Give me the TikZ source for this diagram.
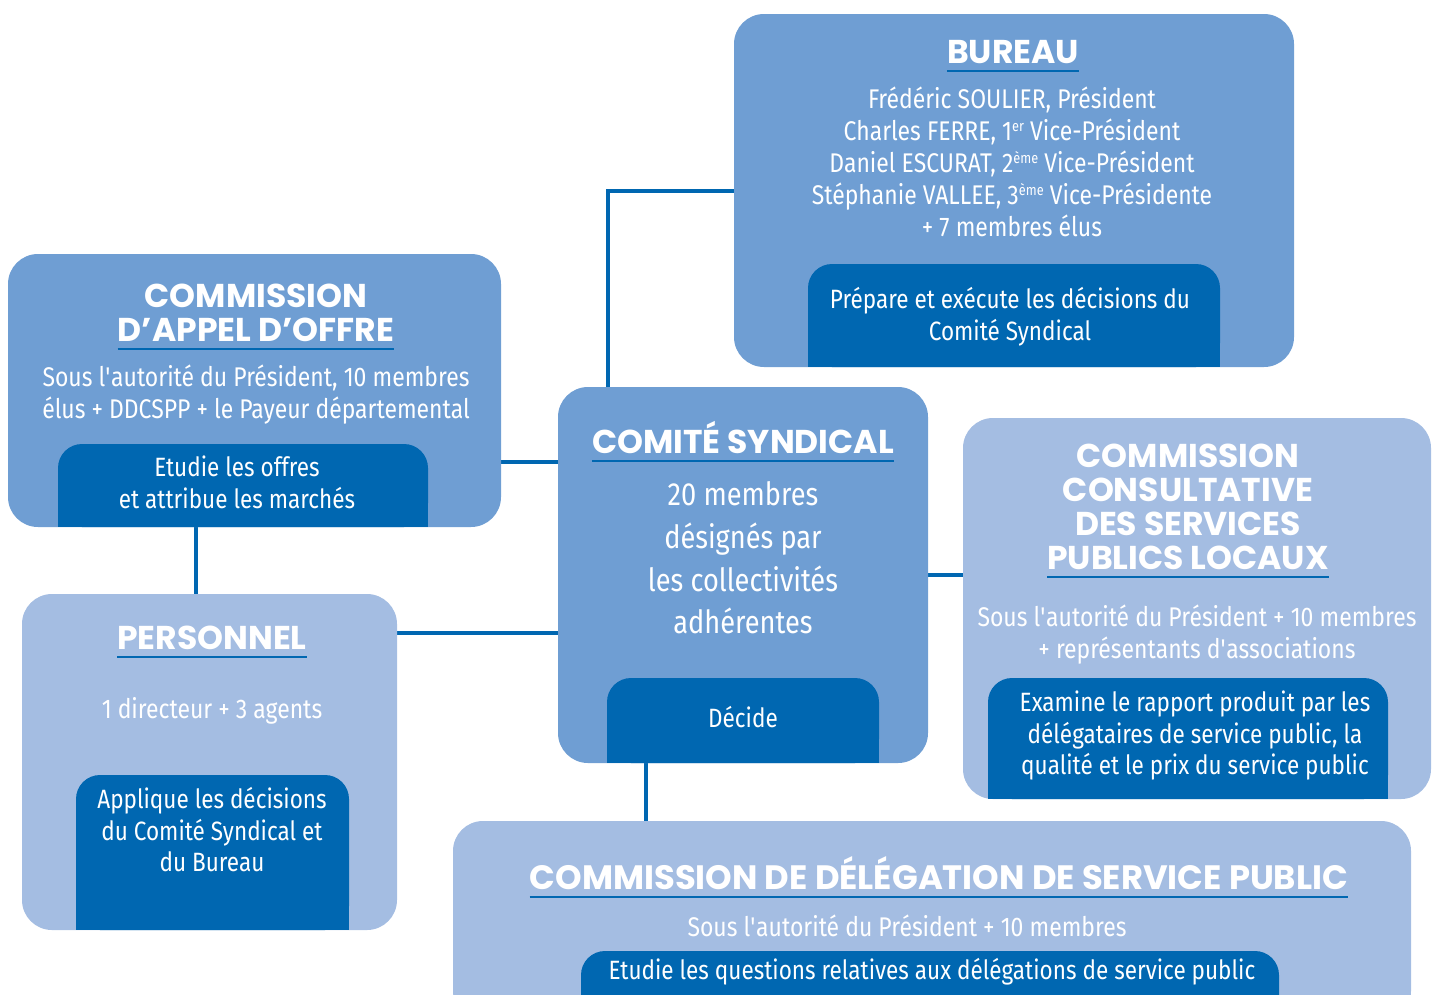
\documentclass[tikz,border=0pt]{standalone}
\usepackage{fontspec}
\usepackage{graphicx}
\setmainfont{Fira Sans}[FakeStretch=0.85]
\newfontfamily\headfont{Poppins}
\usetikzlibrary{backgrounds}
\definecolor{midblue}{HTML}{6F9ED3}
\definecolor{paleblue}{HTML}{A4BDE2}
\definecolor{deepblue}{HTML}{0067B1}
\tikzset{
  midbox/.style={fill=midblue, rounded corners=30pt, inner sep=0pt},
  palebox/.style={fill=paleblue, rounded corners=30pt, inner sep=0pt},
  deck/.style={fill=deepblue, rounded corners=24pt, inner sep=0pt},
  ttl/.style={font=\headfont\bfseries\fontsize{33}{34}\selectfont, text=white, align=center, inner sep=0pt},
  txt/.style={font=\fontsize{27}{32}\selectfont, text=white, align=center, inner sep=0pt},
  dtxt/.style={font=\fontsize{26.5}{31.5}\selectfont, text=white, align=center, inner sep=0pt},
  link/.style={draw=deepblue, line width=4pt},
  rule/.style={draw=deepblue, line width=2pt},
}
\newcommand{\sq}{\textquotesingle}
\newcommand{\rangsup}[1]{\raisebox{0.35em}{\fontsize{15}{15}\selectfont #1}}
\begin{document}
\begin{tikzpicture}[x=1pt, y=-1pt]
\clip (0,0) rectangle (1435,994);
% boxes
\node[midbox, minimum width=560pt, minimum height=353pt] (bureau) at (1014,190.5) {};
\node[midbox, minimum width=493pt, minimum height=273pt] (cao) at (254.5,390.5) {};
\node[midbox, minimum width=370pt, minimum height=376pt] (cs) at (743,575) {};
\node[palebox, minimum width=468pt, minimum height=381pt] (ccspl) at (1197,608.5) {};
\node[palebox, minimum width=375pt, minimum height=336pt] (pers) at (209.5,762) {};
\node[palebox, minimum width=958pt, minimum height=200pt] (cdsp) at (932,921) {};
% inner boxes
\node[deck, minimum width=412pt, minimum height=103pt] (bdec) at (1014,315.5) {};
\node[deck, minimum width=370pt, minimum height=83pt] (caodec) at (243,485.5) {};
\node[deck, minimum width=272pt, minimum height=85pt] (csdec) at (743,720.5) {};
\node[deck, minimum width=400pt, minimum height=121pt] (ccdec) at (1188,738.5) {};
\node[deck, minimum width=273pt, minimum height=155pt] (pdec) at (212.5,852.5) {};
\node[deck, minimum width=698pt, minimum height=70pt] (cdspdec) at (930,986) {};
\foreach \d in {bdec,caodec,csdec,ccdec,pdec}{
  \fill[deepblue] (\d.south west) rectangle ++(26,-26);
  \fill[deepblue] (\d.south east) rectangle ++(-26,-26);
}
% links
\begin{scope}[on background layer]
\coordinate (j1) at ([yshift=-71.5pt]cao.east);
\coordinate (j2) at ([xshift=-13.5pt]pers.north);
\coordinate (j3) at ([yshift=-39pt]pers.north east);
\coordinate (j4) at ([xshift=-97pt]cs.south);
\draw[link] ([xshift=50pt]cs.north west) |- (bureau.west);
\draw[link] (j1) -- (j1 -| cs.west);
\draw[link] (j2) -- (j2 |- cao.south);
\draw[link] (j3) -- (j3 -| cs.west);
\draw[link] (cs.east) -- (cs.east -| ccspl.west);
\draw[link] (j4) -- (j4 |- cdsp.north);
\end{scope}
% titles
\node[ttl] (tbureau) at (1013,52) {BUREAU};
\node[ttl] (tcao) at (256,313) {COMMISSION\\D’APPEL D’OFFRE};
\node[ttl] (tcs) at (743,438) {COMITÉ SYNDICAL};
\node[ttl] (tccspl) at (1188,507) {COMMISSION\\CONSULTATIVE\\DES SERVICES\\PUBLICS LOCAUX};
\node[ttl] (tpers) at (212,638) {PERSONNEL};
\node[ttl, font=\headfont\bfseries\fontsize{33.8}{34}\selectfont] (tcdsp) at (939,873) {COMMISSION DE DÉLÉGATION DE SERVICE PUBLIC};
\foreach \t in {tbureau,tcao,tcs,tccspl,tpers,tcdsp}
  \draw[rule] ([yshift=-7pt]\t.south west) -- ([yshift=-7pt]\t.south east);
% texts
\node[txt] (xbureau) at (1012,162) {Frédéric SOULIER, Président\\Charles FERRE, 1\rangsup{er} Vice-Président\\Daniel ESCURAT, 2\rangsup{ème} Vice-Président\\Stéphanie VALLEE, 3\rangsup{ème} Vice-Présidente\\+ 7 membres élus};
\node[dtxt, font=\fontsize{26.5}{32}\selectfont] (xbdec) at (1010,317) {Prépare et exécute les décisions du\\Comité Syndical};
\node[txt] (xcao) at (256,395) {Sous l\sq autorité du Président, 10 membres\\élus + DDCSPP + le Payeur départemental};
\node[dtxt, font=\fontsize{26.5}{32}\selectfont] (xcaodec) at (237,482) {Etudie les offres\\et attribue les marchés};
\node[txt, font=\fontsize{32}{42.7}\selectfont] (xcs) at (743,558) {20 membres\\désignés par\\les collectivités\\adhérentes};
\node[dtxt] (xcsdec) at (743,717) {Décide};
\node[txt] (xccspl) at (1197,635) {Sous l\sq autorité du Président + 10 membres\\+ représentants d\sq associations};
\node[dtxt] (xccdec) at (1195,735.5) {Examine le rapport produit par les\\délégataires de service public, la\\qualité et le prix du service public};
\node[txt] (xpers) at (212,711) {1 directeur + 3 agents};
\node[dtxt] (xpdec) at (212,830) {Applique les décisions\\du Comité Syndical et\\du Bureau};
\node[txt] (xcdsp) at (907,926) {Sous l\sq autorité du Président + 10 membres};
\node[dtxt] (xcdspdec) at (932,972) {Etudie les questions relatives aux délégations de service public};
\end{tikzpicture}
\end{document}
